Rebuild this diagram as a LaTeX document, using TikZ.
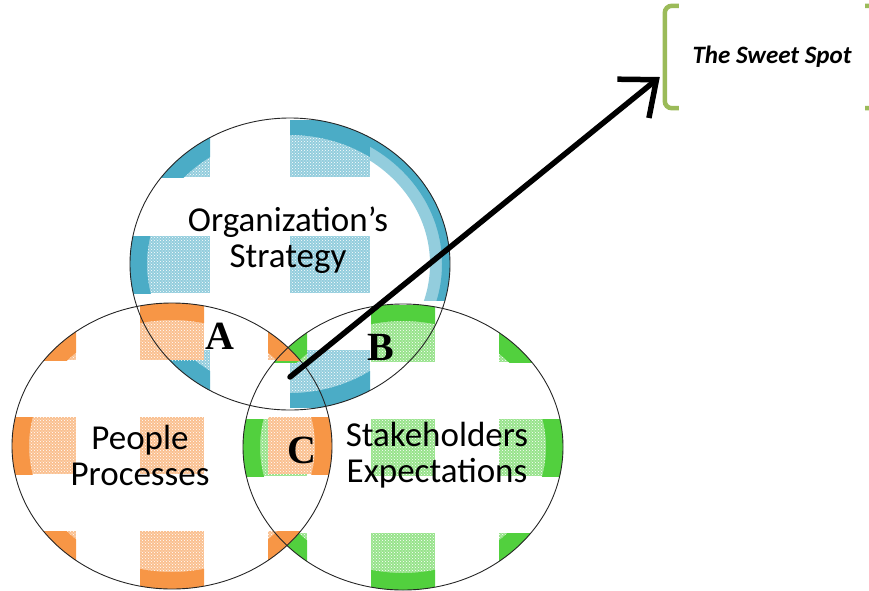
\documentclass[tikz,border=0pt]{standalone}
\usepackage{fontspec}
\setmainfont{Carlito}
\newfontfamily\letterfont{Liberation Serif}
\usetikzlibrary{patterns,arrows.meta}

\definecolor{stratblue}{RGB}{75,172,198}
\definecolor{peopleorange}{RGB}{247,150,70}
\definecolor{stakegreen}{RGB}{82,208,62}
\definecolor{spotgreen}{RGB}{155,187,89}

\begin{document}
\begin{tikzpicture}[%
    x=1pt, y=-1pt,              % pixel grid, y going down
    ]
% -------------------------------------------------
% A few styles
\tikzset{
  ring/.style={draw=black!85, line width=0.9pt},
  lbl/.style={align=center, font=\fontsize{35}{36}\selectfont},
  letter/.style={font=\letterfont\bfseries\fontsize{40}{40}\selectfont},
  sweep/.style={-{Straight Barb[length=30pt,width=50pt]}, line width=5.5pt, line cap=round},
  bracket/.style={draw=spotgreen, line width=4.5pt, rounded corners=7pt},
}
\useasboundingbox (0,0) rectangle (869,590);

% -------------------------------------------------
% Chequered cells of the three circles (blue, green, orange)
\begin{scope}
  \clip (290,264) ellipse [x radius=160pt, y radius=146pt];
  \foreach \cx in {130,290} \foreach \cy in {120,236,350} {
    \fill[stratblue!60] (\cx,\cy) rectangle ++(80,57);
    \fill[pattern=crosshatch dots, pattern color=white] (\cx,\cy) rectangle ++(80,57);
    \begin{scope}
      \clip (\cx,\cy) rectangle ++(80,57);
      \draw[stratblue, line width=34pt] (290,264) ellipse [x radius=160pt, y radius=146pt];
    \end{scope}
  }
  % shaded rim on the right
  \begin{scope}
    \clip (370,120) rectangle (450,300);
    \draw[stratblue!60, line width=40pt] (290,264) ellipse [x radius=160pt, y radius=146pt];
    \draw[stratblue, line width=16pt] (290,264) ellipse [x radius=160pt, y radius=146pt];
  \end{scope}
\end{scope}

\begin{scope}
  \clip (403,447) ellipse [x radius=160pt, y radius=143pt];
  \foreach \cx in {243,371,499} \foreach \cy in {305,419,533} {
    \fill[stakegreen!60] (\cx,\cy) rectangle ++(64,57);
    \fill[pattern=crosshatch dots, pattern color=white] (\cx,\cy) rectangle ++(64,57);
    \begin{scope}
      \clip (\cx,\cy) rectangle ++(64,57);
      \draw[stakegreen, line width=34pt] (403,447) ellipse [x radius=160pt, y radius=143pt];
    \end{scope}
  }
\end{scope}

\begin{scope}
  \clip (172,446) ellipse [x radius=160pt, y radius=143pt];
  \foreach \cx in {12,140,268} \foreach \cy in {303,417,531} {
    \fill[peopleorange!60] (\cx,\cy) rectangle ++(64,57);
    \fill[pattern=crosshatch dots, pattern color=white] (\cx,\cy) rectangle ++(64,57);
    \begin{scope}
      \clip (\cx,\cy) rectangle ++(64,57);
      \draw[peopleorange, line width=34pt] (172,446) ellipse [x radius=160pt, y radius=143pt];
    \end{scope}
  }
\end{scope}

% outlines
\draw[ring] (290,264) ellipse [x radius=160pt, y radius=146pt];
\draw[ring] (403,447) ellipse [x radius=160pt, y radius=143pt];
\draw[ring] (172,446) ellipse [x radius=160pt, y radius=143pt];

% -------------------------------------------------
% Labels
\node [lbl] (strat) at (288,240) {Organization's\\Strategy};
\node [lbl] (people) at (140,455) {People\\Processes};
\node [lbl] (stake) at (437,455) {Stakeholders\\Expectations};

\node [letter] (a) at (220,336) {A};
\node [letter] (b) at (381,347) {B};
\node [letter] (c) at (302,450) {C};

% -------------------------------------------------
% The sweet spot, in brackets
\node [minimum width=214pt, minimum height=102pt, inner sep=0pt,
       font=\fontsize{25}{28}\selectfont\bfseries\itshape] (spot) at (772,57) {The Sweet Spot};
\draw[bracket] ([xshift=14]spot.north west) -- (spot.north west)
               -- (spot.south west) -- ([xshift=14]spot.south west);
\draw[bracket] ([xshift=-14]spot.north east) -- (spot.north east)
               -- (spot.south east) -- ([xshift=-14]spot.south east);

\coordinate (tail) at (290,377);
\draw[sweep] (tail) -- ([shift={(-5,20)}]spot.west);
% -------------------------------------------------
\end{tikzpicture}
\end{document}
